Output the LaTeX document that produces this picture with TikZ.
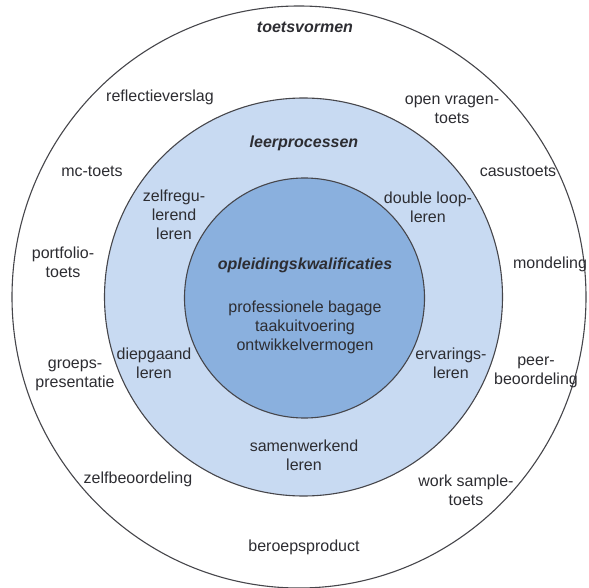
\documentclass[tikz,border=0pt]{standalone}
\usepackage{fontspec}
\setmainfont{Liberation Sans}
\definecolor{innerblue}{RGB}{138,176,222}
\definecolor{midblue}{RGB}{200,218,242}
\definecolor{txt}{RGB}{45,45,50}
\definecolor{ring}{RGB}{70,70,75}
\begin{document}
\begin{tikzpicture}[x=1pt,y=-1pt,
  lbl/.style={text=txt,font=\fontsize{16}{19}\selectfont,align=center,inner sep=0pt},
  ttl/.style={lbl,font=\fontsize{16}{19}\selectfont\bfseries\itshape},
  ringline/.style={draw=ring,line width=1.1pt}]
\useasboundingbox (0,0) rectangle (589,588);
\fill[white] (0,0) rectangle (589,588);
\draw[ringline,fill=white] (299,297) ellipse [x radius=287, y radius=291];
\draw[ringline,fill=midblue] (303.5,297) circle [radius=199];
\draw[ringline,fill=innerblue] (304.5,298) circle [radius=120];
% outer ring
\node[ttl] (tv) at (305,27) {toetsvormen};
\node[lbl] (rv) at (160,97) {reflectieverslag};
\node[lbl] (ov) at (452,109.5) {open vragen-\\toets};
\node[lbl] (mc) at (92,171) {mc-toets};
\node[lbl] (ct) at (518,171) {casustoets};
\node[lbl] (pf) at (63,262.5) {portfolio-\\toets};
\node[lbl] (md) at (550,264) {mondeling};
\node[lbl] (gp) at (75,375.5) {groeps-\\presentatie};
\node[lbl] (pb) at (536,372.5) {peer-\\beoordeling};
\node[lbl] (zb) at (138,479) {zelfbeoordeling};
\node[lbl] (ws) at (466,490.5) {work sample-\\toets};
\node[lbl] (bp) at (304,547) {beroepsproduct};
% middle ring
\node[ttl] (lp) at (304,143) {leerprocessen};
\node[lbl] (zr) at (174,214.5) {zelfregu-\\lerend\\leren};
\node[lbl] (dl) at (428,207.5) {double loop-\\leren};
\node[lbl] (dg) at (154,363) {diepgaand\\leren};
\node[lbl] (er) at (451,363) {ervarings-\\leren};
\node[lbl] (sw) at (304,455.5) {samenwerkend\\leren};
% inner
\node[ttl] (ok) at (305,265.5) {opleidingskwalificaties};
\node[lbl] (pq) at (305,327.5) {professionele bagage\\taakuitvoering\\ontwikkelvermogen};
\end{tikzpicture}
\end{document}
